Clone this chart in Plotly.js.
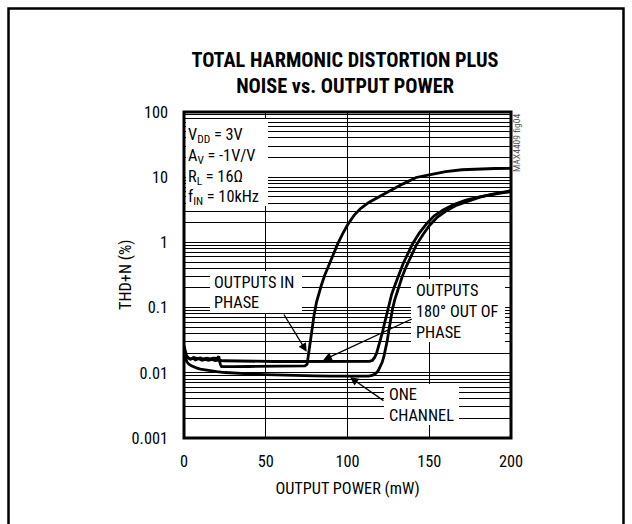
<!DOCTYPE html>
<html>
<head>
<meta charset="utf-8">
<script src="https://cdn.plot.ly/plotly-3.0.1.min.js"></script>
<style>
html,body{margin:0;padding:0;background:#fff;}
#chart{width:632px;height:524px;}
</style>
</head>
<body>
<div id="chart"></div>
<script>
// ---------------- data ----------------
const inPhaseX = [0, 0.7, 1.5, 2.5, 4, 6, 8, 10, 12, 14, 16, 18, 20, 21.3, 22.2, 23, 26, 30, 40, 50, 60, 70, 74, 75.3, 76.2, 77.2, 78.3, 79.5, 81, 82.5, 84, 86, 88.5, 91, 94, 97, 100, 104, 108, 113, 119, 126, 134, 142, 150, 160, 170, 180, 190, 200];
const inPhaseY = [0.026, 0.021, 0.0185, 0.017, 0.0163, 0.0172, 0.0165, 0.0169, 0.0163, 0.0167, 0.0164, 0.0168, 0.0166, 0.0178, 0.0135, 0.0124, 0.0125, 0.0124, 0.0125, 0.0126, 0.0127, 0.0128, 0.0128, 0.0135, 0.02, 0.032, 0.05, 0.075, 0.12, 0.17, 0.22, 0.31, 0.45, 0.65, 0.95, 1.35, 1.85, 2.6, 3.3, 4.1, 5.0, 6.2, 7.9, 9.9, 10.9, 12.2, 13.0, 13.4, 13.6, 13.7];

const outPhaseX = [0, 0.7, 1.5, 2.5, 4, 5.5, 7, 9, 11, 13, 15, 17, 19, 21, 24, 28, 35, 45, 55, 65, 75, 85, 95, 105, 111, 113.5, 115.3, 116.6, 117.8, 119, 120.2, 121.4, 122.7, 124, 125.5, 127, 129, 131.5, 134, 137, 140, 144, 148.5, 153, 158.5, 165, 172.5, 180, 187, 193.5, 200];
const outPhaseY = [0.025, 0.02, 0.018, 0.0168, 0.0162, 0.0168, 0.0158, 0.0164, 0.0156, 0.0161, 0.0155, 0.016, 0.0154, 0.0157, 0.0153, 0.0152, 0.015, 0.015, 0.0149, 0.0149, 0.0149, 0.0149, 0.0149, 0.0149, 0.0149, 0.015, 0.0156, 0.0172, 0.02, 0.025, 0.032, 0.042, 0.058, 0.08, 0.12, 0.16, 0.22, 0.32, 0.47, 0.68, 0.97, 1.4, 1.95, 2.55, 3.15, 3.8, 4.45, 4.95, 5.35, 5.7, 6.0];

const oneChX = [0, 0.5, 1.2, 2, 3, 4.5, 6, 8, 10, 13, 16, 20, 25, 30, 40, 50, 60, 70, 80, 90, 100, 108, 113, 115.5, 117.3, 118.8, 120, 121.2, 122.3, 123.3, 124.3, 125.3, 126.3, 127.5, 129, 131, 133.5, 136, 139, 142, 146, 150, 155, 160, 166, 174, 181, 188, 194, 200];
const oneChY = [0.024, 0.019, 0.016, 0.0145, 0.0135, 0.0128, 0.0123, 0.0118, 0.0114, 0.011, 0.0107, 0.0104, 0.0101, 0.0099, 0.0096, 0.0094, 0.0092, 0.0091, 0.009, 0.0089, 0.0088, 0.0088, 0.0089, 0.0092, 0.0098, 0.0108, 0.0122, 0.0145, 0.018, 0.023, 0.031, 0.045, 0.065, 0.095, 0.135, 0.2, 0.3, 0.43, 0.63, 0.9, 1.3, 1.8, 2.45, 3.0, 3.65, 4.35, 4.95, 5.45, 5.85, 6.2];

const xTickVals = [0, 50, 100, 150, 200];
const xTickText = ['0', '50', '100', '150', '200'];
const yTickVals = [0.001, 0.01, 0.1, 1, 10, 100];
const yTickText = ['0.001', '0.01', '0.1', '1', '10', '100'];

const titleLines = ['TOTAL HARMONIC DISTORTION PLUS', 'NOISE vs. OUTPUT POWER'];
const xTitle = 'OUTPUT POWER (mW)';
const yTitle = 'THD+N (%)';
const condLines = ['V<sub>DD</sub> = 3V', 'A<sub>V</sub> = -1V/V', 'R<sub>L</sub> = 16\u03A9', 'f<sub>IN</sub> = 10kHz'];
const inPhaseLabel = ['OUTPUTS IN', 'PHASE'];
const outPhaseLabel = ['OUTPUTS', '180\u00B0 OUT OF', 'PHASE'];
const oneChLabel = ['ONE', 'CHANNEL'];
const figId = 'MAX4409 fig04';

// ---------------- font selection ----------------
const ctx = document.createElement('canvas').getContext('2d');
function hasFont(name) {
  const s = 'OUTPUT POWER (mW) 0123456789';
  ctx.font = '20px monospace'; const a = ctx.measureText(s).width;
  ctx.font = '20px "' + name + '", monospace'; const b = ctx.measureText(s).width;
  ctx.font = '20px serif'; const c = ctx.measureText(s).width;
  ctx.font = '20px "' + name + '", serif'; const d = ctx.measureText(s).width;
  return a !== b || c !== d;
}
const candidates = ['Liberation Sans Narrow', 'Roboto Condensed', 'Noto Sans Condensed', 'DejaVu Sans Condensed', 'Arial Narrow', 'Roboto'];
let FONT = 'Roboto';
for (const c of candidates) { if (hasFont(c)) { FONT = c; break; } }
function sizeFor(text, target, weight) {
  ctx.font = (weight || '') + ' 100px "' + FONT + '"';
  return Math.round(100 * target / ctx.measureText(text).width * 10) / 10;
}
const LBL = Math.min(18, sizeFor(xTitle, 145));
const TTL = Math.min(22, sizeFor(titleLines[0], 308, 'bold'));
const FIG = Math.min(10, sizeFor(figId, 58));

// ---------------- layout helpers ----------------
const L = 184, R = 511, T = 112, B = 438, W = 632, H = 524;
const px2x = p => (p - L) / (R - L);
const py2y = p => (B - p) / (B - T);
const dx = p => (p - L) / (R - L) * 200;
const dly = p => 2 - (p - T) / (B - T) * 5;

const minorVals = [];
for (let e = -3; e < 2; e++) {
  for (let d = 2; d <= 9; d++) minorVals.push(d * Math.pow(10, e));
}

const lineStyle = {color: '#000', width: 2.8};
const traces = [
  {x: inPhaseX, y: inPhaseY, mode: 'lines', line: lineStyle, name: 'Outputs in phase'},
  {x: outPhaseX, y: outPhaseY, mode: 'lines', line: lineStyle, name: 'Outputs 180° out of phase'},
  {x: oneChX, y: oneChY, mode: 'lines', line: lineStyle, name: 'One channel'}
];

function box(x0, x1, y0, y1) {
  return {type: 'rect', xref: 'paper', yref: 'paper', x0: px2x(x0), x1: px2x(x1), y0: py2y(y1), y1: py2y(y0),
          fillcolor: '#fff', line: {width: 0}, layer: 'above'};
}

const shapes = [
  box(186, 268, 119, 206),
  box(210, 302, 271, 313),
  box(411, 505, 279, 342),
  box(384, 459, 384, 425),
  {type: 'rect', xref: 'paper', yref: 'paper', x0: 0, x1: 1, y0: 0, y1: 1, line: {color: '#000', width: 3}, layer: 'above'},
  {type: 'rect', xref: 'paper', yref: 'paper', x0: px2x(8.5), x1: px2x(623.5), y0: py2y(540), y1: py2y(8.5), line: {color: '#000', width: 2.5}, layer: 'above'}
];

const annotations = [];
function textLines(lines, x, ys) {
  lines.forEach((t, i) => annotations.push({
    text: t, xref: 'paper', yref: 'paper', x: px2x(x), y: py2y(ys[i]),
    xanchor: 'left', yanchor: 'middle', showarrow: false,
    font: {family: FONT, size: LBL, color: '#000'}
  }));
}
textLines(condLines, 186, [135, 156, 177, 197]);
textLines(inPhaseLabel, 212, [282, 302]);
textLines(outPhaseLabel, 414, [290, 311, 332]);
textLines(oneChLabel, 387, [394, 415]);

function arrow(tx, ty, hx, hy) {
  annotations.push({
    text: '', xref: 'x', yref: 'y', axref: 'x', ayref: 'y',
    x: dx(hx), y: dly(hy), ax: dx(tx), ay: dly(ty),
    showarrow: true, arrowhead: 2, arrowsize: 1.3, arrowwidth: 1.3, arrowcolor: '#000', standoff: 0
  });
}
arrow(283, 313, 306.7, 351.7);
arrow(413.3, 318.3, 323.3, 360);
arrow(385, 401.7, 350, 377.3);

// rotated figure id
annotations.push({
  text: figId, xref: 'paper', yref: 'paper', x: px2x(516), y: py2y(143),
  xanchor: 'center', yanchor: 'middle', textangle: -90, showarrow: false,
  font: {family: FONT, size: FIG, color: '#555'}
});
// y axis title
annotations.push({
  text: yTitle, xref: 'paper', yref: 'paper', x: px2x(125), y: py2y(275),
  xanchor: 'center', yanchor: 'middle', textangle: -90, showarrow: false,
  font: {family: FONT, size: LBL, color: '#000'}
});

const layout = {
  width: W, height: H,
  margin: {l: L, r: W - R, t: T, b: H - B, pad: 0},
  paper_bgcolor: '#fff', plot_bgcolor: '#fff',
  showlegend: false,
  font: {family: FONT, size: LBL, color: '#000'},
  title: {
    text: titleLines.join('<br>'),
    font: {family: FONT, size: TTL, color: '#000', weight: 700},
    xref: 'container', yref: 'container', x: 345 / W, xanchor: 'center', y: 1 - 67 / H, yanchor: 'middle'
  },
  xaxis: {
    range: [0, 200], tickvals: xTickVals, ticktext: xTickText,
    showgrid: true, gridcolor: '#000', gridwidth: 1, zeroline: false, showline: false,
    ticks: '', ticklabelstandoff: 12, tickfont: {family: FONT, size: LBL, color: '#000'},
    title: {text: xTitle, font: {family: FONT, size: LBL, color: '#000'}, standoff: 12},
    automargin: false, fixedrange: true
  },
  yaxis: {
    type: 'log', range: [-3, 2], tickvals: yTickVals, ticktext: yTickText,
    showgrid: true, gridcolor: '#000', gridwidth: 1, zeroline: false, showline: false,
    ticks: '', ticklabelstandoff: 15, tickfont: {family: FONT, size: LBL, color: '#000'},
    minor: {tickvals: minorVals, showgrid: true, gridcolor: '#000', gridwidth: 1, ticks: ''},
    automargin: false, fixedrange: true
  },
  shapes: shapes,
  annotations: annotations
};

Plotly.newPlot('chart', traces, layout, {staticPlot: true, displayModeBar: false});
</script>
</body>
</html>
